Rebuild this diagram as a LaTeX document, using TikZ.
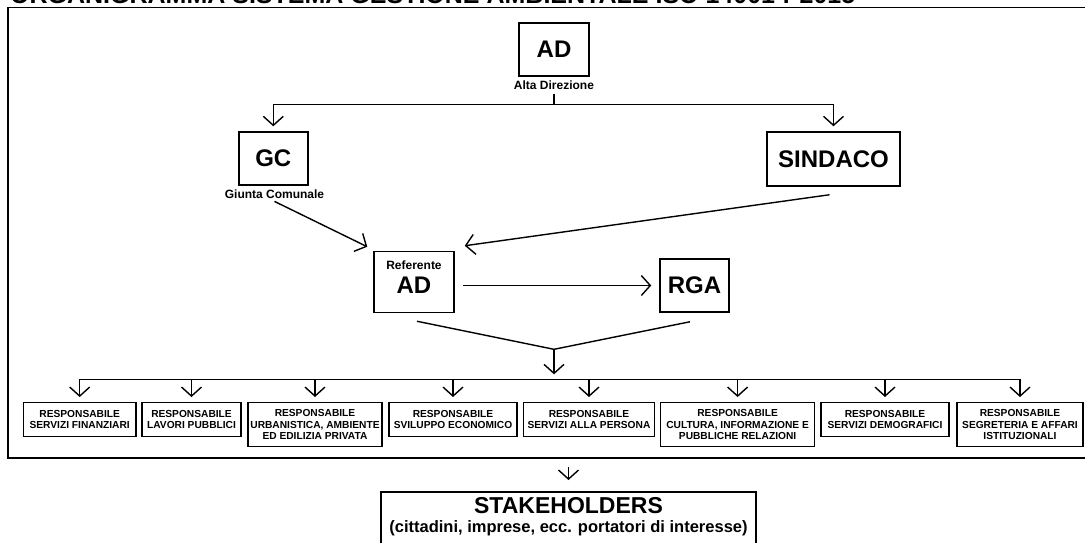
\documentclass[tikz,border=0pt]{standalone}
\usepackage{fontspec}
\setmainfont{Liberation Sans}
\usetikzlibrary{arrows.meta}

\begin{document}
\begin{tikzpicture}[x=1pt, y=-1pt,
  box/.style={draw, line width=1.5pt, inner sep=2pt, font=\fontsize{24}{24}\selectfont\bfseries},
  lbl/.style={inner sep=1pt, font=\fontsize{12}{12}\selectfont\bfseries},
  resp/.style={draw, line width=1.4pt, anchor=north, align=center, inner sep=0.5pt, font=\fontsize{10.2}{11.5}\selectfont\bfseries},
  conn/.style={line width=1.4pt},
  arr/.style={conn, -{Straight Barb[length=9pt,width=20pt]}}]
\useasboundingbox (0,0) rectangle (1085,542);
\node[anchor=base west, inner sep=0pt, font=\fontsize{25}{25}\selectfont\bfseries] (title) at (10,3.5) {ORGANIGRAMMA SISTEMA GESTIONE AMBIENTALE ISO 14001 : 2015};
\draw[line width=1.8pt] (8,7.5) rectangle (1100,458);

\node[box, minimum width=70pt, minimum height=53pt] (ad) at (554,49.3) {AD};
\node[lbl] (adl) at (554,85) {Alta Direzione};
\node[box, minimum width=69pt, minimum height=53pt] (gc) at (273.3,158.5) {GC};
\node[lbl] (gcl) at (274.5,194.3) {Giunta Comunale};
\node[box, minimum width=133pt, minimum height=54pt] (sind) at (833.5,159) {SINDACO};
\node[box, minimum width=80pt, minimum height=61pt] (ref) at (414,282) {};
\node[lbl] (refl) at (414,265) {Referente};
\node[inner sep=0pt, font=\fontsize{24}{24}\selectfont\bfseries] (refad) at (414,285) {AD};
\node[box, minimum width=69pt, minimum height=53pt] (rga) at (694.5,285.5) {RGA};

\node[resp, minimum width=112.6pt, minimum height=34pt] (r1) at (79.7,402) {RESPONSABILE\\SERVIZI FINANZIARI};
\node[resp, minimum width=99pt, minimum height=34pt] (r2) at (191.5,402) {RESPONSABILE\\LAVORI PUBBLICI};
\node[resp, minimum width=134pt, minimum height=44pt] (r3) at (315,402) {RESPONSABILE\\URBANISTICA, AMBIENTE\\ED EDILIZIA PRIVATA};
\node[resp, minimum width=128pt, minimum height=34pt] (r4) at (453,402) {RESPONSABILE\\SVILUPPO ECONOMICO};
\node[resp, minimum width=131pt, minimum height=34pt] (r5) at (589,402) {RESPONSABILE\\SERVIZI ALLA PERSONA};
\node[resp, minimum width=154pt, minimum height=44pt] (r6) at (737.6,402) {RESPONSABILE\\CULTURA, INFORMAZIONE E\\PUBBLICHE RELAZIONI};
\node[resp, minimum width=128pt, minimum height=34pt] (r7) at (885,402) {RESPONSABILE\\SERVIZI DEMOGRAFICI};
\node[resp, minimum width=126pt, minimum height=44pt] (r8) at (1020,402) {RESPONSABILE\\SEGRETERIA E AFFARI\\ISTITUZIONALI};

\node[draw, line width=1.5pt, minimum width=375pt, minimum height=64pt, anchor=north] (stake) at (568.5,491) {};
\node[font=\fontsize{23}{23}\selectfont\bfseries] (stakeh) at (568.5,506) {STAKEHOLDERS};
\node[font=\fontsize{16.5}{17}\selectfont\bfseries] (stakes) at (568.5,528) {(cittadini, imprese, ecc. portatori di interesse)};

\coordinate (split) at (554,104.7);
\coordinate (merge) at (554,349.3);
\coordinate (bus) at (554,379.3);
\draw[conn] ([yshift=-3pt]adl.south) -- (split);
\draw[arr, shorten >=5pt] (split) -| (gc.north);
\draw[arr, shorten >=5pt] (split) -| (sind.north);
\draw[arr] ([yshift=-1.5pt]gcl.south) -- ([xshift=-6pt,yshift=4pt]ref.north west);
\draw[arr] ([xshift=-4pt,yshift=-8pt]sind.south) -- ([xshift=10pt,yshift=5pt]ref.north east);
\draw[arr, shorten <=8pt, shorten >=8pt] (ref.east |- rga.west) -- (rga.west);
\draw[conn] ([xshift=3pt,yshift=-8pt]ref.south) -- (merge) -- ([xshift=-4.5pt,yshift=-9pt]rga.south);
\draw[arr, shorten >=5pt] (merge) -- (bus);
\draw[conn] (r1.north |- bus) -- (r8.north |- bus);
\draw[arr, shorten >=5pt] (r1.north |- bus) -- (r1.north);
\draw[arr, shorten >=5pt] (r2.north |- bus) -- (r2.north);
\draw[arr, shorten >=5pt] (r3.north |- bus) -- (r3.north);
\draw[arr, shorten >=5pt] (r4.north |- bus) -- (r4.north);
\draw[arr, shorten >=5pt] (r5.north |- bus) -- (r5.north);
\draw[arr, shorten >=5pt] (r6.north |- bus) -- (r6.north);
\draw[arr, shorten >=5pt] (r7.north |- bus) -- (r7.north);
\draw[arr, shorten >=5pt] (r8.north |- bus) -- (r8.north);
\draw[arr, shorten >=11pt] ([yshift=24pt]stake.north) -- (stake.north);
\end{tikzpicture}
\end{document}
